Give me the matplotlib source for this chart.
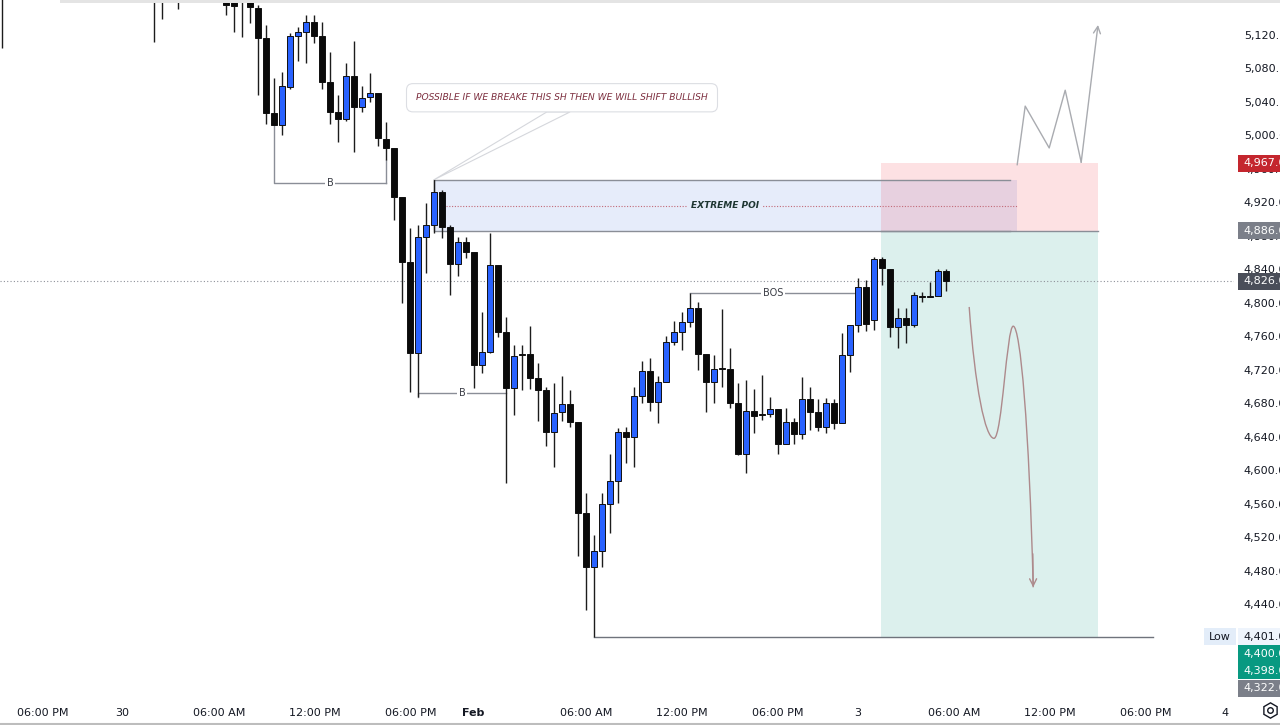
import matplotlib
matplotlib.use("Agg")
import matplotlib.pyplot as plt
import matplotlib.transforms as mtransforms
from matplotlib.patches import Rectangle, Polygon, PathPatch
from matplotlib.path import Path
from matplotlib.lines import Line2D
from matplotlib.ticker import FuncFormatter
import numpy as np

# 30 min gold candles, 29 Jan -> 3 Feb (None = candle fully above the visible range)
opens = [5210] + [None] * 18 + [5205, 5192, None, 5184] + [None] * 5 + [
    5172, 5170, 5174, 5166,
    5152, 5116, 5027, 5012, 5058, 5119, 5124, 5136, 5119, 5064,
    5028, 5020, 5071, 5034, 5046, 5051, 4996, 4985, 4926, 4849,
    4740, 4879, 4893, 4932, 4891, 4846, 4873, 4861, 4726, 4741,
    4845, 4765, 4698, 4739, 4739, 4710, 4696, 4646, 4669, 4679,
    4658, 4549, 4484, 4503, 4560, 4587, 4646, 4640, 4689, 4718,
    4681, 4705, 4753, 4765, 4777, 4794, 4739, 4705, 4722, 4721,
    4680, 4619, 4671, 4667, 4667, 4673, 4631, 4658, 4643, 4685,
    4669, 4652, 4680, 4656, 4738, 4773, 4819, 4779, 4852, 4840,
    4771, 4782, 4773, 4808, 4808, 4808, 4838]
highs = [5232] + [None] * 18 + [5218, 5200, None, 5196] + [None] * 5 + [
    5182, 5178, 5180, 5172,
    5156, 5132, 5069, 5076, 5122, 5130, 5144, 5144, 5136, 5100,
    5048, 5087, 5113, 5059, 5075, 5051, 5016, 4985, 4926, 4889,
    4893, 4919, 4948, 4935, 4893, 4879, 4879, 4861, 4789, 4883,
    4845, 4783, 4750, 4750, 4772, 4728, 4699, 4704, 4713, 4696,
    4658, 4573, 4523, 4573, 4619, 4650, 4652, 4699, 4730, 4734,
    4713, 4760, 4778, 4789, 4812, 4801, 4739, 4738, 4793, 4746,
    4704, 4708, 4697, 4714, 4687, 4673, 4674, 4662, 4711, 4699,
    4685, 4686, 4685, 4764, 4773, 4830, 4827, 4855, 4855, 4840,
    4794, 4794, 4813, 4813, 4825, 4840, 4840]
lows = [5104] + [None] * 18 + [5112, 5139, None, 5151] + [None] * 5 + [
    5144, 5124, 5118, 5134,
    5048, 5014, 5012, 5000, 5055, 5089, 5087, 5110, 5055, 5014,
    4992, 5017, 4980, 5028, 5040, 4987, 4971, 4899, 4800, 4693,
    4687, 4836, 4883, 4877, 4809, 4832, 4854, 4698, 4716, 4740,
    4759, 4585, 4666, 4696, 4697, 4659, 4629, 4604, 4659, 4652,
    4497, 4433, 4401, 4484, 4525, 4561, 4609, 4604, 4680, 4671,
    4656, 4705, 4750, 4744, 4771, 4720, 4669, 4680, 4699, 4674,
    4618, 4597, 4644, 4660, 4663, 4619, 4631, 4631, 4637, 4648,
    4647, 4644, 4649, 4656, 4717, 4765, 4766, 4767, 4821, 4759,
    4746, 4752, 4771, 4801, 4807, 4808, 4814]
closes = [5196] + [None] * 18 + [5192, 5184, None, 5190] + [None] * 5 + [
    5156, 5155, 5166, 5153,
    5116, 5027, 5012, 5059, 5119, 5124, 5136, 5119, 5064, 5028,
    5020, 5071, 5034, 5045, 5051, 4997, 4985, 4926, 4849, 4740,
    4879, 4893, 4932, 4891, 4846, 4873, 4861, 4726, 4741, 4845,
    4765, 4698, 4736, 4738, 4710, 4696, 4646, 4668, 4679, 4658,
    4549, 4484, 4503, 4560, 4587, 4646, 4640, 4689, 4718, 4681,
    4705, 4753, 4765, 4777, 4794, 4739, 4705, 4721, 4721, 4680,
    4619, 4671, 4665, 4666, 4673, 4631, 4658, 4643, 4685, 4669,
    4652, 4680, 4656, 4738, 4773, 4819, 4775, 4852, 4842, 4771,
    4782, 4773, 4809, 4807, 4807, 4838, 4826]

time_ticks = [5.1, 15, 27.1, 39.1, 51.1, 58.9, 73, 85, 97, 107, 119, 131, 143, 152.9]
time_labels = ["06:00 PM", "30", "06:00 AM", "12:00 PM", "06:00 PM", "Feb",
               "06:00 AM", "12:00 PM", "06:00 PM", "3", "06:00 AM", "12:00 PM",
               "06:00 PM", "4"]
price_ticks = list(range(4440, 5121, 40))
last_price = 4826

# drawings
b_levels = [4943, 4692]
b_from = [34, 52]
b_to = [48, 63]
b_anchor = [5012, 4687]      # swing lows the B lines start from
bos_level, bos_from, bos_to = 4812, 86, 107
low_level, low_from, low_to = 4401, 74, 143.9
poi_top, poi_mid, poi_bot = 4947, 4916, 4886
poi_from, poi_to = 54, 126.9
entry, stop, target = 4886, 4967, 4401
pos_from, pos_to = 109.9, 137
zigzag_x = [126.9, 127.9, 130.9, 132.9, 134.9, 137.0]
zigzag_y = [4965, 5035, 4985, 5054, 4968, 5132]
curve_pts = [(120.9, 4795),
             (121.6, 4700), (122.9, 4638), (124.0, 4638),
             (125.0, 4638), (125.6, 4772), (126.4, 4772),
             (127.3, 4772), (128.4, 4650), (128.9, 4460)]
note_text = "POSSIBLE IF WE BREAKE THIS SH THEN WE WILL SHIFT BULLISH"

# price scale tags: label, price, face, text colour
tags = [("4,967.00", 4967, "#c4262e", "white"),
        ("4,886.00", 4886, "#7b7f89", "white"),
        ("4,826.00", 4826, "#4a4e59", "white"),
        ("4,401.00", 4401, "#eef4fc", "#131722"),
        ("4,400.00", 4400, "#089981", "white"),
        ("4,398.00", 4398, "#089981", "white"),
        ("4,322.00", 4322, "#7b7f89", "white")]

UP = "#2962ff"
DOWN = "#0a0a0a"
GREY = "#8a8e97"
Y_BOTTOM, Y_TOP = 4328.9, 5161.8

fig = plt.figure(figsize=(12.8, 7.25), dpi=100)
ax = fig.add_axes([0, 28 / 725, 1234 / 1280, 697 / 725])
ax.set_xlim(-0.25, 154.0)
ax.set_ylim(Y_BOTTOM, Y_TOP)
for s in ax.spines.values():
    s.set_visible(False)

o = np.array(opens, dtype=float)
h = np.array(highs, dtype=float)
l = np.array(lows, dtype=float)
c = np.array(closes, dtype=float)
x = np.arange(len(o))
ok = ~np.isnan(o)
x, o, h, l, c = x[ok], o[ok], h[ok], l[ok], c[ok]
up = c >= o
body_lo = np.minimum(o, c)
body_h = np.maximum(np.abs(c - o), 1.2)

ax.vlines(x, l, h, color="#1c1c1c", lw=1.0, zorder=3)
ax.bar(x, body_h, bottom=body_lo, width=0.72,
       color=np.where(up, UP, DOWN), edgecolor="#101010", linewidth=0.7, zorder=4)

# current price line
ax.axhline(last_price, color="#8d9099", lw=0.8, ls=(0, (1, 2)), zorder=2)

# extreme POI zone
ax.add_patch(Rectangle((poi_from, poi_bot), poi_to - poi_from, poi_top - poi_bot,
                       facecolor="#e6ecfa", edgecolor="none", zorder=1))
ax.plot([poi_to - 0.9, poi_from, poi_from, poi_to - 0.9],
        [poi_top, poi_top, poi_bot, poi_bot], color=GREY, lw=1.0, zorder=2)
ax.plot([poi_from + 1.5, poi_to], [poi_mid, poi_mid], color="#c26a78",
        lw=0.8, ls=(0, (1, 1.5)), zorder=2)
ax.text(90.4, poi_mid, "EXTREME POI", fontsize=6.5, fontweight="bold",
        fontstyle="italic", color="#1e3632", ha="center", va="center", zorder=6,
        bbox=dict(boxstyle="square,pad=0.3", fc="#e6ecfa", ec="none"))

# position tool
ax.add_patch(Rectangle((pos_from, entry), pos_to - pos_from, stop - entry,
                       facecolor="#f23645", alpha=0.15, edgecolor="none", zorder=1.5))
ax.add_patch(Rectangle((pos_from, target), pos_to - pos_from, entry - target,
                       facecolor="#089981", alpha=0.14, edgecolor="none", zorder=1.5))
ax.plot([pos_from, pos_to], [entry, entry], color=GREY, lw=1.0, zorder=2)

# B / BOS / Low lines
for lev, x0, x1, anc in zip(b_levels, b_from, b_to, b_anchor):
    ax.plot([x0, x0, x1], [anc, lev, lev], color=GREY, lw=1.0, zorder=2)
    ax.text((x0 + x1) / 2, lev, "B", fontsize=7, color="#3c3f47", ha="center",
            va="center", zorder=6, bbox=dict(boxstyle="square,pad=0.15", fc="white", ec="none"))
ax.plot([b_to[0], b_to[0]], [4971, b_levels[0]], color=GREY, lw=1.0, zorder=2)
ax.plot([bos_from, bos_to], [bos_level, bos_level], color=GREY, lw=1.0, zorder=2)
ax.text(96.4, bos_level, "BOS", fontsize=7, color="#3c3f47", ha="center",
        va="center", zorder=6, bbox=dict(boxstyle="square,pad=0.2", fc="white", ec="none"))
ax.plot([low_from, low_to], [low_level, low_level], color="#6f737c", lw=1.0, zorder=2)

# callout
ax.add_patch(Polygon([(68.1, 5028), (71.0, 5028), (54.0, poi_top)], closed=True,
                     facecolor="white", edgecolor="#d5d7dc", lw=0.8, zorder=5))
ax.text(70.0, 5045, note_text, fontsize=6.6, fontstyle="italic", color="#7d2f3f",
        ha="center", va="center", zorder=6,
        bbox=dict(boxstyle="round,pad=1.05,rounding_size=0.7", fc="white", ec="#dcdee3", lw=0.8))

# projected paths
ax.plot(zigzag_x[:-1], zigzag_y[:-1], color="#a9abb0", lw=1.0, zorder=5)
ax.annotate("", xy=(zigzag_x[-1], zigzag_y[-1]), xytext=(zigzag_x[-2], zigzag_y[-2]),
            arrowprops=dict(arrowstyle="->,head_length=0.5,head_width=0.25",
                            color="#a9abb0", lw=1.0, shrinkA=0, shrinkB=0), zorder=5)
codes = [Path.MOVETO] + [Path.CURVE4] * 9
ax.add_patch(PathPatch(Path(curve_pts, codes), facecolor="none",
                       edgecolor="#ad8a8c", lw=1.0, zorder=5))
ax.annotate("", xy=curve_pts[-1], xytext=(curve_pts[-1][0] - 0.05, curve_pts[-1][1] + 40),
            arrowprops=dict(arrowstyle="->,head_length=0.5,head_width=0.25",
                            color="#ad8a8c", lw=1.0, shrinkA=0, shrinkB=0), zorder=5)

# axes labels
ax.yaxis.tick_right()
ax.set_yticks(price_ticks)
ax.yaxis.set_major_formatter(FuncFormatter(lambda v, p: f"{v:,.2f}"))
ax.tick_params(axis="y", length=0, pad=7, labelsize=8, labelcolor="#131722")
ax.set_xticks(time_ticks)
ax.set_xticklabels(time_labels)
ax.tick_params(axis="x", length=0, pad=8, labelsize=8, labelcolor="#131722")
ax.get_xticklabels()[5].set_fontweight("bold")

# price tags, stacked so they do not overlap and kept above the bottom edge
trans = mtransforms.blended_transform_factory(fig.transFigure, ax.transData)
tag_h = 17 / 0.8368
prev = None
for lab, price, fc, tc in sorted(tags, key=lambda t: -t[1]):
    yy = max(price, Y_BOTTOM + tag_h / 2)
    if prev is not None:
        yy = min(yy, prev - tag_h)
    prev = yy
    ax.add_patch(Rectangle((1238 / 1280, yy - tag_h / 2), 42 / 1280, tag_h, transform=trans,
                           facecolor=fc, edgecolor="none", clip_on=False, zorder=10))
    ax.text(1243 / 1280, yy, lab, transform=trans, fontsize=8, color=tc,
            ha="left", va="center", clip_on=False, zorder=11)
    if price == low_level:
        ax.add_patch(Rectangle((1204 / 1280, yy - tag_h / 2), 32 / 1280, tag_h, transform=trans,
                               facecolor="#e3edf9", edgecolor="none", clip_on=False, zorder=10))
        ax.text(1220 / 1280, yy, "Low", transform=trans, fontsize=8, color="#131722",
                ha="center", va="center", clip_on=False, zorder=11)

# frame bits of the screenshot
fig.add_artist(Rectangle((60 / 1280, 722 / 725), 1 - 60 / 1280, 3 / 725,
                         transform=fig.transFigure, facecolor="#e4e4e4", edgecolor="none"))
fig.add_artist(Line2D([0, 1], [1.5 / 725, 1.5 / 725], transform=fig.transFigure,
                      color="#bdbdbd", lw=1.5))
fig.add_artist(Line2D([1270 / 1280], [15 / 725], transform=fig.transFigure, marker="h",
                      markersize=11, markerfacecolor="none", markeredgecolor="#131722", mew=1.0))
fig.add_artist(Line2D([1270 / 1280], [15 / 725], transform=fig.transFigure, marker="o",
                      markersize=4, markerfacecolor="none", markeredgecolor="#131722", mew=1.0))

fig.savefig("out.png", dpi=100, facecolor="white")
